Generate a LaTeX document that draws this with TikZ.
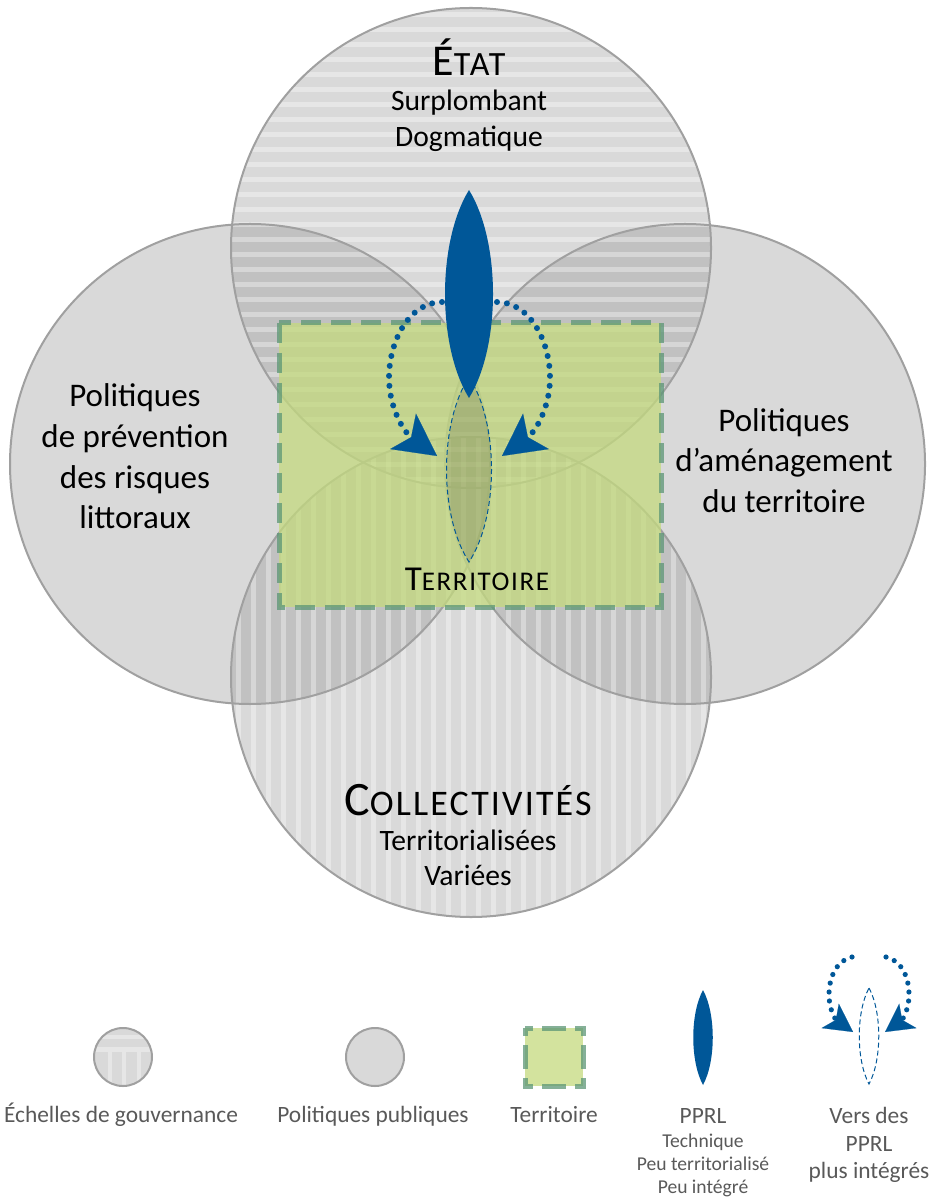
\documentclass[tikz,border=0pt]{standalone}
\usepackage{fontspec}
\setmainfont{Carlito}
\usetikzlibrary{arrows.meta}
\usetikzlibrary{calc}

\definecolor{circfill}{gray}{0.6}
\definecolor{circline}{RGB}{160,160,160}
\definecolor{pprlblue}{RGB}{0,87,152}
\definecolor{terrfill}{RGB}{196,218,126}
\definecolor{terrline}{RGB}{92,150,118}
\definecolor{legendgray}{RGB}{89,89,89}

% faux small caps: big letter, then the rest smaller
\newcommand{\fauxsc}[4]{{\fontsize{#1}{#1}\selectfont #3}{\fontsize{#2}{#2}\selectfont\addfontfeatures{LetterSpace=6}#4}}

\tikzset{
  circ/.style={fill=circfill,fill opacity=0.375},
  circborder/.style={draw=circline,line width=1pt},
  stripe/.style={fill=white,fill opacity=0.35},
  terrbox/.style={fill=terrfill,draw=terrline,line width=2.5pt,opacity=0.75},
  pprl/.style={fill=pprlblue},
  pprlnew/.style={draw=pprlblue,line width=0.5pt,dash pattern=on 2.5pt off 1.5pt},
  dotarc/.style={draw=pprlblue,line width=3pt,line cap=round,dash pattern=on 0pt off 5pt,
    -{Stealth[length=21pt,width=22pt,inset=5pt,line width=0.1pt]}},
  bigtext/.style={anchor=base,inner sep=0pt,font=\fontsize{16.5}{20}\selectfont},
  subtext/.style={anchor=base,inner sep=0pt,font=\fontsize{14.8}{18}\selectfont},
  legtext/.style={anchor=base,inner sep=0pt,text=legendgray,font=\fontsize{11.7}{14}\selectfont},
  legsmall/.style={anchor=base,inner sep=0pt,text=legendgray,font=\fontsize{9.8}{12}\selectfont},
}

\begin{document}
\begin{tikzpicture}[x=0.5pt,y=-0.5pt]
  \useasboundingbox (0,0) rectangle (935,1202);

  % circles
  \coordinate (prev) at (250,464);
  \coordinate (amen) at (685,464);
  \coordinate (etat) at (471,248);
  \coordinate (coll) at (471,677);
  \foreach \c in {prev,amen,etat,coll}
    \fill[circ] (\c) circle (240);
  \begin{scope}
    \clip (etat) circle (240);
    \foreach \y in {12,27,...,492}
      \fill[stripe] (230,\y) rectangle (712,\y+5);
  \end{scope}
  \begin{scope}
    \clip (coll) circle (240);
    \foreach \x in {236,251,...,712}
      \fill[stripe] (\x,436) rectangle (\x+5,918);
  \end{scope}
  \foreach \c in {prev,amen,etat,coll}
    \draw[circborder] (\c) circle (240);

  % territoire
  \draw[terrbox,dash pattern=on 10pt off 5pt] (279,323) rectangle (661,607);

  % PPRL plus integres
  \draw[pprlnew,fill=black,fill opacity=0.12] (469,377) .. controls (499,423) and (499,516) .. (469,562)
    .. controls (439,516) and (439,423) .. (469,377) -- cycle;

  % dotted arrows
  \coordinate (arcL) at (442,302);
  \coordinate (tipL) at (437,456);
  \coordinate (arcR) at (497,302);
  \coordinate (tipR) at (502,456);
  \draw[dotarc] (arcL) .. controls (410,302) and (389,340) .. (389,378)
    .. controls (389,408) and (404,432) .. (tipL);
  \draw[dotarc] (arcR) .. controls (529,302) and (550,340) .. (550,378)
    .. controls (550,408) and (535,432) .. (tipR);

  % PPRL
  \fill[pprl] (469,190) .. controls (501,242) and (501,346) .. (469,398)
    .. controls (437,346) and (437,242) .. (469,190) -- cycle;

  % texts
  \node[anchor=base,inner sep=0pt] (etatT) at (469,76) {\fauxsc{22}{17}{É}{TAT}};
  \node[subtext] (etat1) at (469,111) {Surplombant};
  \node[subtext] (etat2) at (469,147) {Dogmatique};

  \node[bigtext] (prev1) at (135,407) {Politiques};
  \node[bigtext] (prev2) at (135,448) {de prévention};
  \node[bigtext] (prev3) at (135,488) {des risques};
  \node[bigtext] (prev4) at (135,528) {littoraux};

  \node[bigtext] (amen1) at (784,432) {Politiques};
  \node[bigtext] (amen2) at (784,472) {d’aménagement};
  \node[bigtext] (amen3) at (784,512) {du territoire};

  \node[anchor=base,inner sep=0pt] (terrT) at (477,590) {\fauxsc{17.5}{13.5}{T}{ERRITOIRE}};

  \node[anchor=base,inner sep=0pt] (collT) at (468,815) {\fauxsc{24}{18}{C}{OLLECTIVITÉS}};
  \node[subtext] (coll1) at (468,850) {Territorialisées};
  \node[subtext] (coll2) at (468,885) {Variées};

  % legend
  \fill[circ] (123,1057) circle (29);
  \begin{scope}
    \clip (123,1057) circle (29);
    \fill[stripe] (90,1035) rectangle (156,1039);
    \fill[stripe] (90,1047) rectangle (156,1052);
    \foreach \x in {108,122,137}
      \fill[stripe] (\x,1052) rectangle (\x+4,1090);
  \end{scope}
  \draw[circborder] (123,1057) circle (29);
  \node[legtext] (legEch) at (121,1122) {Échelles de gouvernance};

  \fill[circ] (375,1057) circle (29);
  \draw[circborder] (375,1057) circle (29);
  \node[legtext] (legPol) at (373,1122) {Politiques publiques};

  \draw[terrbox,dash pattern=on 8pt off 4.5pt on 12pt off 4.5pt,dash phase=4pt] (525,1028) rectangle (583,1086);
  \node[legtext] (legTer) at (554,1122) {Territoire};

  \fill[pprl] (703,990) .. controls (716,1014) and (716,1061) .. (703,1085)
    .. controls (690,1061) and (690,1014) .. (703,990) -- cycle;
  \node[legtext] (legPP) at (703,1123) {PPRL};
  \node[legsmall] (legPP1) at (703,1147) {Technique};
  \node[legsmall] (legPP2) at (703,1170) {Peu territorialisé};
  \node[legsmall] (legPP3) at (703,1193) {Peu intégré};

  \draw[pprlnew] (869,988) .. controls (882,1012) and (882,1060) .. (869,1084)
    .. controls (856,1060) and (856,1012) .. (869,988) -- cycle;
  \coordinate (legArcL) at (852,957);
  \coordinate (legTipL) at (853,1032);
  \coordinate (legArcR) at (886,957);
  \coordinate (legTipR) at (885,1032);
  \draw[dotarc,line width=2.6pt,dash pattern=on 0pt off 4.5pt,-{Stealth[length=14pt,width=15pt,inset=3.5pt,line width=0.1pt]}]
    (legArcL) .. controls (838,960) and (829,975) .. (829,995)
    .. controls (829,1010) and (836,1020) .. (legTipL);
  \draw[dotarc,line width=2.6pt,dash pattern=on 0pt off 4.5pt,-{Stealth[length=14pt,width=15pt,inset=3.5pt,line width=0.1pt]}]
    (legArcR) .. controls (900,960) and (909,975) .. (909,995)
    .. controls (909,1010) and (902,1020) .. (legTipR);
  \node[legtext] (legVers1) at (869,1123) {Vers des};
  \node[legtext] (legVers2) at (869,1151) {PPRL};
  \node[legtext] (legVers3) at (869,1178) {plus intégrés};
\end{tikzpicture}
\end{document}
